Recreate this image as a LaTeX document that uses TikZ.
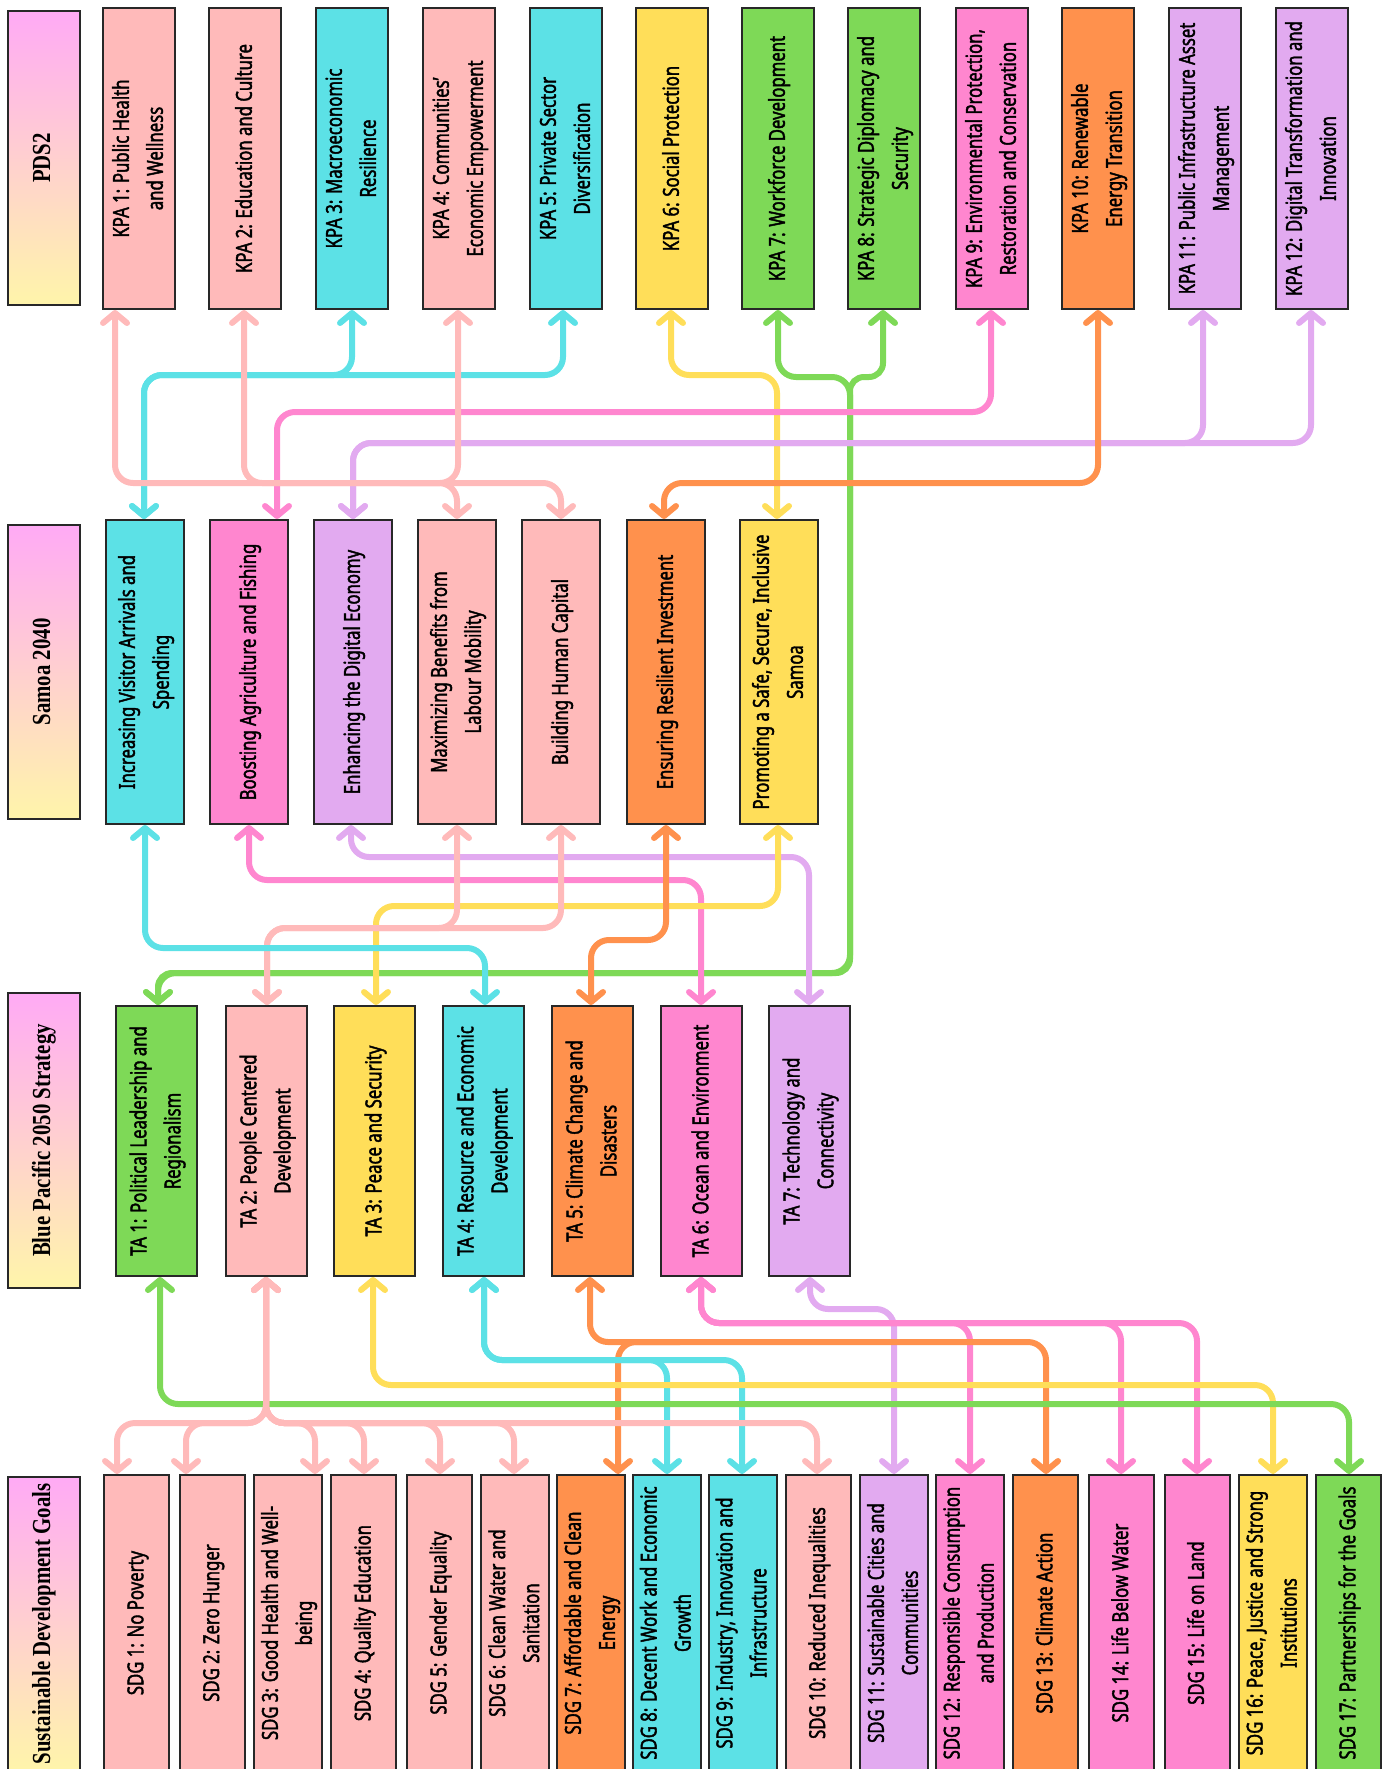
\documentclass[tikz,border=0pt]{standalone}
\usepackage{fontspec}
\usepackage{graphicx}
\usepackage{xcolor}
\usetikzlibrary{arrows.meta}

\newfontfamily\boxfont{Noto Sans}[FakeStretch=0.76, AutoFakeBold=1.8]
\newfontfamily\headfont{Liberation Serif}[FakeStretch=0.8]

\definecolor{pinkc}{RGB}{255,186,186}
\definecolor{cyanc}{RGB}{92,225,230}
\definecolor{yellowc}{RGB}{255,222,89}
\definecolor{greenc}{RGB}{126,217,87}
\definecolor{magentac}{RGB}{255,134,207}
\definecolor{orangec}{RGB}{255,145,77}
\definecolor{lavc}{RGB}{226,170,240}
\definecolor{headtop}{RGB}{255,170,245}
\definecolor{headbot}{RGB}{255,245,170}
\definecolor{edgec}{RGB}{40,40,40}

\newcommand{\rt}[1]{\rotatebox{90}{\begin{tabular}{@{}c@{}}#1\end{tabular}}}

\tikzset{
  box/.style={draw=edgec, line width=2pt, inner sep=0pt,
    font=\boxfont\bfseries\fontsize{22}{34}\selectfont},
  kpa/.style={box, minimum width=72pt, minimum height=301pt},
  sam/.style={box, minimum width=78pt, minimum height=304pt},
  ta/.style={box, minimum width=81pt, minimum height=270pt},
  sdg/.style={box, minimum width=65pt, minimum height=296pt},
  head/.style={draw=edgec, line width=2pt, inner sep=0pt, minimum width=72pt,
    top color=headtop, bottom color=headbot,
    font=\headfont\bfseries\fontsize{26}{30}\selectfont},
  link/.style={draw=#1, line width=6pt, rounded corners=18pt, line cap=round, <->},
  >={Straight Barb[length=10pt,width=24pt,round]},
}

\begin{document}
\begin{tikzpicture}[x=1pt, y=-1pt]
\useasboundingbox (0,0) rectangle (1392,1769);

\node[head, minimum height=294pt] (hpds) at (44,158) {\rt{PDS2}};
\node[kpa, fill=pinkc] (k1) at (139,158.5) {\rt{KPA 1: Public Health\\and Wellness}};
\node[kpa, fill=pinkc] (k2) at (245,158.5) {\rt{KPA 2: Education and Culture}};
\node[kpa, fill=cyanc] (k3) at (352,158.5) {\rt{KPA 3: Macroeconomic\\Resilience}};
\node[kpa, fill=pinkc] (k4) at (459,158.5) {\rt{KPA 4: Communities’\\Economic Empowerment}};
\node[kpa, fill=cyanc] (k5) at (566,158.5) {\rt{KPA 5: Private Sector\\Diversification}};
\node[kpa, fill=yellowc] (k6) at (672,158.5) {\rt{KPA 6: Social Protection}};
\node[kpa, fill=greenc] (k7) at (778,158.5) {\rt{KPA 7: Workforce Development}};
\node[kpa, fill=greenc] (k8) at (884,158.5) {\rt{KPA 8: Strategic Diplomacy and\\Security}};
\node[kpa, fill=magentac] (k9) at (992,158.5) {\rt{KPA 9: Environmental Protection,\\Restoration and Conservation}};
\node[kpa, fill=orangec] (k10) at (1098,158.5) {\rt{KPA 10: Renewable\\Energy Transition}};
\node[kpa, fill=lavc] (k11) at (1205,158.5) {\rt{KPA 11: Public Infrastructure Asset\\Management}};
\node[kpa, fill=lavc] (k12) at (1312,158.5) {\rt{KPA 12: Digital Transformation and\\Innovation}};

\node[head, minimum height=294pt] (hsam) at (44,672) {\rt{Samoa 2040}};
\node[sam, fill=cyanc] (s1) at (145,672) {\rt{Increasing Visitor Arrivals and\\Spending}};
\node[sam, fill=magentac] (s2) at (249,672) {\rt{Boosting Agriculture and Fishing}};
\node[sam, fill=lavc] (s3) at (353,672) {\rt{Enhancing the Digital Economy}};
\node[sam, fill=pinkc] (s4) at (457,672) {\rt{Maximizing Benefits from\\Labour Mobility}};
\node[sam, fill=pinkc] (s5) at (561,672) {\rt{Building Human Capital}};
\node[sam, fill=orangec] (s6) at (666,672) {\rt{Ensuring Resilient Investment}};
\node[sam, fill=yellowc] (s7) at (779,672) {\rt{Promoting a Safe, Secure, Inclusive\\Samoa}};

\node[head, minimum height=295pt] (hbp) at (44,1140.5) {\rt{Blue Pacific 2050 Strategy}};
\node[ta, fill=greenc] (t1) at (156.5,1141) {\rt{TA 1: Political Leadership and\\Regionalism}};
\node[ta, fill=pinkc] (t2) at (266.5,1141) {\rt{TA 2: People Centered\\Development}};
\node[ta, fill=yellowc] (t3) at (374.5,1141) {\rt{TA 3: Peace and Security}};
\node[ta, fill=cyanc] (t4) at (483.5,1141) {\rt{TA 4: Resource and Economic\\Development}};
\node[ta, fill=orangec] (t5) at (592.5,1141) {\rt{TA 5: Climate Change and\\Disasters}};
\node[ta, fill=magentac] (t6) at (701.5,1141) {\rt{TA 6: Ocean and Environment}};
\node[ta, fill=lavc] (t7) at (809.5,1141) {\rt{TA 7: Technology and\\Connectivity}};

\node[head, minimum height=294pt] (hsdg) at (44,1624) {\rt{Sustainable Development Goals}};
\node[sdg, fill=pinkc] (g1) at (136.5,1623) {\rt{SDG 1: No Poverty}};
\node[sdg, fill=pinkc] (g2) at (212.25,1623) {\rt{SDG 2: Zero Hunger}};
\node[sdg, fill=pinkc] (g3) at (288,1623) {\rt{SDG 3: Good Health and Well-\\being}};
\node[sdg, fill=pinkc] (g4) at (363.75,1623) {\rt{SDG 4: Quality Education}};
\node[sdg, fill=pinkc] (g5) at (439.5,1623) {\rt{SDG 5: Gender Equality}};
\node[sdg, fill=pinkc] (g6) at (515.25,1623) {\rt{SDG 6: Clean Water and\\Sanitation}};
\node[sdg, fill=orangec] (g7) at (591,1623) {\rt{SDG 7: Affordable and Clean\\Energy}};
\node[sdg, fill=cyanc] (g8) at (666.75,1623) {\rt{SDG 8: Decent Work and Economic\\Growth}};
\node[sdg, fill=cyanc] (g9) at (742.5,1623) {\rt{SDG 9: Industry, Innovation and\\Infrastructure}};
\node[sdg, fill=pinkc] (g10) at (818.25,1623) {\rt{SDG 10: Reduced Inequalities}};
\node[sdg, fill=lavc] (g11) at (894,1623) {\rt{SDG 11: Sustainable Cities and\\Communities}};
\node[sdg, fill=magentac] (g12) at (969.75,1623) {\rt{SDG 12: Responsible Consumption\\and Production}};
\node[sdg, fill=orangec] (g13) at (1045.5,1623) {\rt{SDG 13: Climate Action}};
\node[sdg, fill=magentac] (g14) at (1121.25,1623) {\rt{SDG 14: Life Below Water}};
\node[sdg, fill=magentac] (g15) at (1197,1623) {\rt{SDG 15: Life on Land}};
\node[sdg, fill=yellowc] (g16) at (1272.75,1623) {\rt{SDG 16: Peace, Justice and Strong\\Institutions}};
\node[sdg, fill=greenc] (g17) at (1348.5,1623) {\rt{SDG 17: Partnerships for the Goals}};

\draw[link=greenc] (778,0 |- k7.south) |- (850,377) |- (158,973) -- (158,0 |- t1.north);
\draw[link=greenc, rounded corners=14pt] (883,0 |- k8.south) |- (850,377) |- (158,973) -- (158,0 |- t1.north);
\draw[link=cyanc] (352,0 |- k3.south) |- (144,375) -- (144,0 |- s1.north);
\draw[link=cyanc] (563,0 |- k5.south) |- (144,375) -- (144,0 |- s1.north);
\draw[link=yellowc] (671,0 |- k6.south) |- (777,375) -- (777,0 |- s7.north);
\draw[link=magentac] (991,0 |- k9.south) |- (277,412) -- (277,0 |- s2.north);
\draw[link=lavc] (1203,0 |- k11.south) |- (353,443) -- (353,0 |- s3.north);
\draw[link=lavc] (1311,0 |- k12.south) |- (353,443) -- (353,0 |- s3.north);
\draw[link=orangec] (1098,0 |- k10.south) |- (664,483) -- (664,0 |- s6.north);
\draw[link=pinkc] (115,0 |- k1.south) |- (561,483) -- (561,0 |- s5.north);
\draw[link=pinkc] (244,0 |- k2.south) |- (457,483) -- (457,0 |- s4.north);
\draw[link=pinkc, <-] (458,0 |- k4.south) |- (400,483);

\draw[link=lavc] (351,0 |- s3.south) |- (809,857) -- (809,0 |- t7.north);
\draw[link=magentac] (249,0 |- s2.south) |- (701,880) -- (701,0 |- t6.north);
\draw[link=yellowc] (778,0 |- s7.south) |- (376,906) -- (376,0 |- t3.north);
\draw[link=pinkc] (457,0 |- s4.south) |- (267,928) -- (267,0 |- t2.north);
\draw[link=pinkc] (561,0 |- s5.south) |- (267,928) -- (267,0 |- t2.north);
\draw[link=orangec] (666,0 |- s6.south) |- (591,940) -- (591,0 |- t5.north);
\draw[link=cyanc] (145,0 |- s1.south) |- (485,948) -- (485,0 |- t4.north);

\draw[link=lavc] (810,0 |- t7.south) |- (894,1309) -- (894,0 |- g11.north);
\foreach \gx/\gn in {970/g12,1121/g14,1197/g15}
  \draw[link=magentac] (701,0 |- t6.south) |- (\gx,1323) -- (\gx,0 |- \gn.north);
\draw[link=orangec] (590,0 |- t5.south) |- (1046,1342) -- (1046,0 |- g13.north);
\draw[link=orangec, <-] (618,0 |- g7.north) |- (680,1342);
\draw[link=cyanc] (484,0 |- t4.south) |- (667,1360) -- (667,0 |- g8.north);
\draw[link=cyanc] (484,0 |- t4.south) |- (742,1360) -- (742,0 |- g9.north);
\draw[link=yellowc] (373,0 |- t3.south) |- (1273,1385) -- (1273,0 |- g16.north);
\draw[link=greenc] (160,0 |- t1.south) |- (1349,1404) -- (1349,0 |- g17.north);
\foreach \gx/\gn in {117/g1,186/g2,315/g3,364/g4,440/g5,514/g6,817/g10}
  \draw[link=pinkc] (266,0 |- t2.south) |- (\gx,1423) -- (\gx,0 |- \gn.north);
\end{tikzpicture}
\end{document}
